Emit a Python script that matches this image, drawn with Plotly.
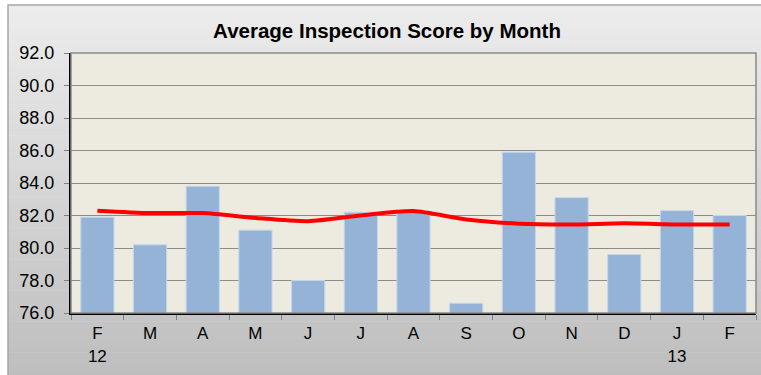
import plotly.graph_objects as go

# Monthly inspection data, Feb 2012 - Feb 2013
months = ["F<br>12", "M", "A", "M", "J", "J", "A", "S", "O", "N", "D", "J<br>13", "F"]
month_keys = [f"m{i}" for i in range(len(months))]
avg_score = [81.9, 80.2, 83.8, 81.1, 78.0, 82.2, 82.2, 76.6, 85.9, 83.1, 79.6, 82.3, 82.0]
trend = [82.3, 82.15, 82.15, 81.85, 81.65, 82.0, 82.27, 81.75, 81.5, 81.45, 81.52, 81.45, 81.45]
y_ticks = [76, 78, 80, 82, 84, 86, 88, 90, 92]

W, H = 761, 375
ML, MR, MT, MB = 71, 5, 53, 62
pw, ph = W - ML - MR, H - MT - MB


def px_x(p):
    return (p - ML) / pw


def px_y(p):
    return (H - MB - p) / ph


fig = go.Figure()

fig.add_trace(go.Bar(
    x=month_keys, y=avg_score,
    marker=dict(color="#95B3D7", line=dict(color="#C5D6EA", width=1)),
    hoverinfo="y",
))
fig.add_trace(go.Scatter(
    x=month_keys, y=trend, mode="lines",
    line=dict(color="#FF0000", width=4, shape="spline", smoothing=0.7),
))

# Chart-area background: vertical grey gradient built from thin bands
shapes = []
top_px, bot_px, left_px, right_px = 5, H + 2, 8, W + 2
n = 60
c_top = (236, 236, 236)
c_bot = (190, 190, 190)
for i in range(n):
    t = i / (n - 1)
    c = tuple(round(a + (b - a) * t) for a, b in zip(c_top, c_bot))
    y0 = top_px + (bot_px - top_px) * i / n
    y1 = top_px + (bot_px - top_px) * (i + 1) / n + 0.6
    shapes.append(dict(
        type="rect", xref="paper", yref="paper", layer="below",
        x0=px_x(left_px), x1=px_x(right_px), y0=px_y(y1), y1=px_y(y0),
        fillcolor=f"rgb{c}", line=dict(width=0),
    ))
# outer frame
shapes.append(dict(
    type="rect", xref="paper", yref="paper", layer="below",
    x0=px_x(left_px), x1=px_x(right_px), y0=px_y(bot_px), y1=px_y(top_px),
    fillcolor="rgba(0,0,0,0)", line=dict(color="#A6A6A6", width=1.5),
))
# plot-area fill
shapes.append(dict(
    type="rect", xref="paper", yref="paper", layer="below",
    x0=0, x1=1, y0=0, y1=1,
    fillcolor="#EDEADF", line=dict(width=0),
))
# plot-area frame (top and right edges)
shapes.append(dict(
    type="rect", xref="paper", yref="paper", layer="above",
    x0=0, x1=1, y0=0, y1=1,
    fillcolor="rgba(0,0,0,0)", line=dict(color="#8A8A8A", width=1.5),
))

fig.update_layout(
    width=W, height=H,
    margin=dict(l=ML, r=MR, t=MT, b=MB),
    paper_bgcolor="white",
    plot_bgcolor="#EDEADF",
    showlegend=False,
    bargap=0.37,
    shapes=shapes,
    font=dict(family="Liberation Sans, Arial, sans-serif", color="#000000", size=17),
    title=dict(
        text="<b>Average Inspection Score by Month</b>",
        xref="container", x=387 / W, xanchor="center",
        y=1 - 31 / H, yanchor="middle",
        font=dict(size=20.5, family="Liberation Sans, Arial, sans-serif"),
    ),
)

fig.update_xaxes(
    type="category",
    tickvals=month_keys, ticktext=months,
    tickson="boundaries", ticks="outside", ticklen=5, tickcolor="#808080",
    showline=True, linecolor="black", linewidth=2,
    showgrid=False, tickfont=dict(size=17), ticklabelstandoff=4,
)
fig.update_yaxes(
    range=[76, 92], tickvals=y_ticks,
    ticktext=[f"{v:.1f}" for v in y_ticks],
    ticks="outside", ticklen=5, tickcolor="#808080",
    showline=True, linecolor="black", linewidth=2,
    showgrid=True, gridcolor="#8C8C8C", gridwidth=1,
    zeroline=False, tickfont=dict(size=18), ticklabelstandoff=6,
)

fig.write_html("out.html")
